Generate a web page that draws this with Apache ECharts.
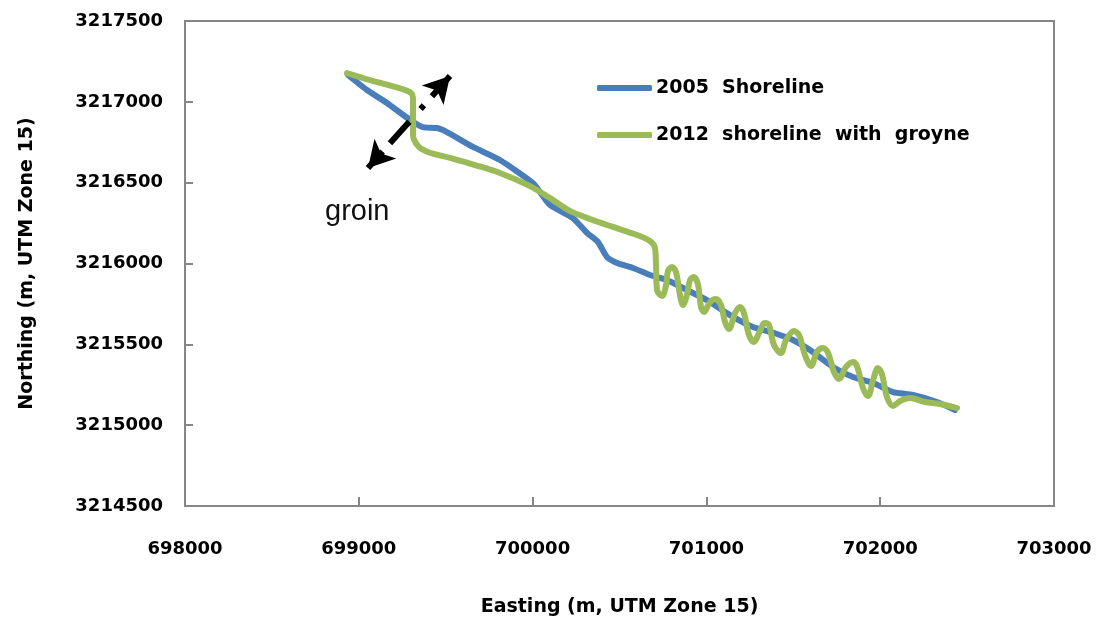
<!DOCTYPE html>
<html>
<head>
<meta charset="utf-8">
<title>Shoreline change with groynes</title>
<script src="https://cdn.jsdelivr.net/npm/echarts@6/dist/echarts.min.js"></script>
<style>
  html, body { margin: 0; padding: 0; background: #fff; }
  #chart { width: 1099px; height: 626px; }
</style>
</head>
<body>
<div id="chart"></div>
<script>
// Axis ranges and tick labels (UTM zone 15, metres)
const eastingTicks = [698000, 699000, 700000, 701000, 702000, 703000];
const northingTicks = [3214500, 3215000, 3215500, 3216000, 3216500, 3217000, 3217500];

// 2005 shoreline trace
const shore2005Easting = [698938, 699047, 699162, 699295, 699369, 699450, 699507, 699657, 699812, 700002,
  700043, 700100, 700232, 700313, 700376, 700428, 700486, 700578, 700675, 700773,
  700888, 701003, 701136, 701268, 701406, 701498, 701596, 701728, 701843, 701959,
  702074, 702189, 702327, 702430];
const shore2005Northing = [3217166, 3217073, 3216993, 3216888, 3216844, 3216838, 3216813, 3216721, 3216640, 3216498,
  3216442, 3216362, 3216281, 3216189, 3216133, 3216040, 3216003, 3215972, 3215929, 3215898,
  3215836, 3215774, 3215681, 3215607, 3215564, 3215527, 3215465, 3215360, 3215298, 3215261,
  3215205, 3215187, 3215143, 3215094];

// 2012 shoreline trace, with the groyne field salients
const shore2012Easting = [698932, 699064, 699208, 699300, 699312, 699312, 699341, 699398, 699525, 699669,
  699812, 699985, 700100, 700215, 700330, 700463, 700601, 700675, 700704, 700710,
  700716, 700745, 700768, 700779, 700802, 700825, 700848, 700865, 700888, 700906,
  700929, 700952, 700969, 700986, 701021, 701055, 701084, 701107, 701130, 701165,
  701193, 701216, 701245, 701274, 701303, 701337, 701360, 701389, 701429, 701458,
  701504, 701533, 701567, 701602, 701636, 701671, 701700, 701734, 701763, 701803,
  701843, 701866, 701901, 701930, 701959, 701987, 702010, 702039, 702074, 702114,
  702171, 702258, 702344, 702442];
const shore2012Northing = [3217178, 3217135, 3217092, 3217055, 3217011, 3216795, 3216727, 3216690, 3216653, 3216609,
  3216560, 3216479, 3216405, 3216325, 3216275, 3216226, 3216176, 3216139, 3216096, 3215991,
  3215836, 3215799, 3215867, 3215954, 3215978, 3215947, 3215805, 3215743, 3215805, 3215898,
  3215916, 3215867, 3215731, 3215700, 3215762, 3215780, 3215743, 3215638, 3215595, 3215694,
  3215731, 3215694, 3215558, 3215514, 3215570, 3215632, 3215620, 3215496, 3215446, 3215527,
  3215582, 3215558, 3215434, 3215366, 3215453, 3215477, 3215446, 3215329, 3215286, 3215360,
  3215391, 3215366, 3215230, 3215180, 3215279, 3215354, 3215316, 3215174, 3215119, 3215149,
  3215168, 3215143, 3215131, 3215106];

// Double-headed arrow across the groin: centres of the two heads (easting, northing)
const groinArrowStart = [699053, 3216591];
const groinArrowEnd = [699525, 3217160];

const seriesNames = ['2005  Shoreline', '2012  shoreline  with  groyne'];

function zip(xs, ys) { return xs.map((x, i) => [x, ys[i]]); }

const axisColor = '#868686';
const tickFont = { color: '#000', fontFamily: 'DejaVu Sans', fontWeight: 'bold', fontSize: 18 };
const nameFont = { color: '#000', fontFamily: 'DejaVu Sans', fontWeight: 'bold', fontSize: 19 };
const plain = v => String(v);

const chart = echarts.init(document.getElementById('chart'), null, { renderer: 'canvas' });
chart.setOption({
  animation: false,
  backgroundColor: '#fff',
  grid: {
    left: 185, right: 45, top: 21, bottom: 120,
    show: true, borderColor: axisColor, borderWidth: 2,
    outerBoundsMode: 'none'
  },
  xAxis: {
    type: 'value',
    min: eastingTicks[0], max: eastingTicks[eastingTicks.length - 1], interval: 1000,
    name: 'Easting (m, UTM Zone 15)',
    nameLocation: 'middle', nameGap: 92, nameTextStyle: nameFont,
    axisLine: { show: true, lineStyle: { color: axisColor, width: 2 } },
    axisTick: { show: true, inside: true, length: 9, lineStyle: { color: axisColor, width: 2 } },
    axisLabel: Object.assign({ margin: 34, showMinLabel: true, showMaxLabel: true, formatter: plain }, tickFont),
    splitLine: { show: false }
  },
  yAxis: {
    type: 'value',
    min: northingTicks[0], max: northingTicks[northingTicks.length - 1], interval: 500,
    name: 'Northing (m, UTM Zone 15)',
    nameLocation: 'middle', nameGap: 148, nameRotate: 90, nameTextStyle: nameFont,
    axisLine: { show: true, lineStyle: { color: axisColor, width: 2 } },
    axisTick: { show: true, inside: true, length: 8, lineStyle: { color: axisColor, width: 2 } },
    axisLabel: Object.assign({ margin: 22, showMinLabel: true, showMaxLabel: true, formatter: plain }, tickFont),
    splitLine: { show: false }
  },
  legend: {
    orient: 'vertical',
    left: 597, top: 77, padding: 0,
    itemWidth: 55, itemHeight: 6, itemGap: 25,
    icon: 'roundRect',
    textStyle: { color: '#000', fontFamily: 'DejaVu Sans', fontWeight: 'bold', fontSize: 19, lineHeight: 22, padding: [0, 0, 0, -1] },
    data: seriesNames
  },
  series: [
    {
      name: seriesNames[0],
      type: 'line',
      data: zip(shore2005Easting, shore2005Northing),
      showSymbol: false, symbol: 'none',
      smooth: 0.2,
      color: '#4a7ebb',
      lineStyle: { color: '#4a7ebb', width: 6, cap: 'round', join: 'round' },
      z: 2
    },
    {
      name: seriesNames[1],
      type: 'line',
      data: zip(shore2012Easting, shore2012Northing),
      showSymbol: false, symbol: 'none',
      smooth: 0.35,
      color: '#9bbb59',
      lineStyle: { color: '#9bbb59', width: 6, cap: 'round', join: 'round' },
      z: 3,
      // dashed shaft of the groin arrow
      markLine: {
        silent: true,
        symbol: ['none', 'none'],
        label: { show: false },
        lineStyle: { color: '#000', width: 6, type: [22, 11, 29, 17, 5, 12, 40, 20], cap: 'butt' },
        data: [[{ coord: groinArrowStart }, { coord: groinArrowEnd }]]
      },
      // arrow heads at both ends
      markPoint: {
        silent: true,
        symbol: 'arrow',
        symbolSize: [22, 26],
        itemStyle: { color: '#000' },
        label: { show: false },
        data: [
          { coord: groinArrowStart, symbolRotate: 138 },
          { coord: groinArrowEnd, symbolRotate: -42 }
        ]
      }
    }
  ],
  graphic: [
    {
      type: 'text',
      left: 325, top: 197,
      style: { text: 'groin', fill: '#111', font: '29px "Liberation Sans", Arial, sans-serif' },
      z: 10
    }
  ]
});
</script>
</body>
</html>
